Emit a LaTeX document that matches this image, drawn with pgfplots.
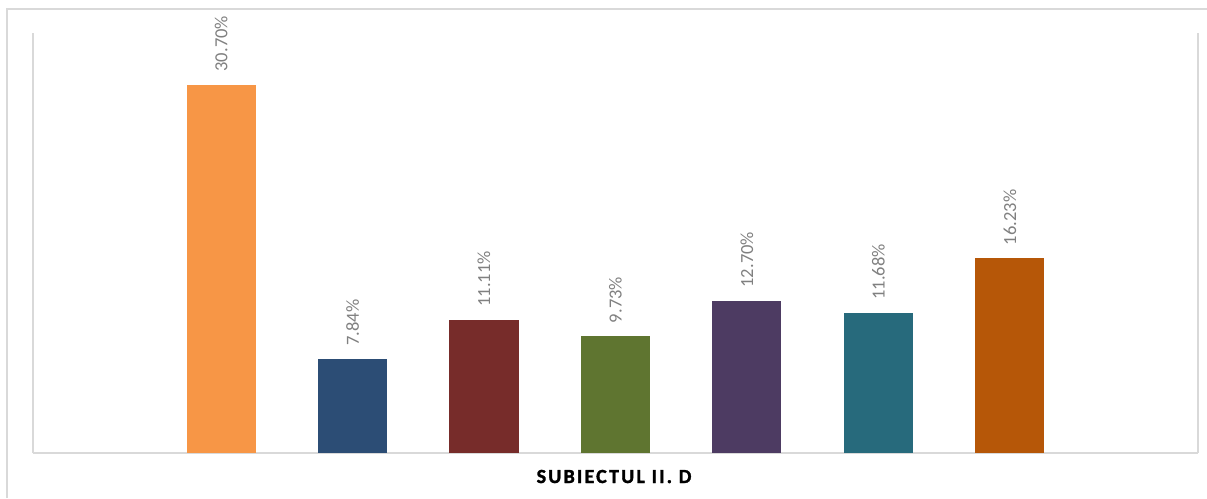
\documentclass[border=0pt]{standalone}
\usepackage{pgfplots}
\pgfplotsset{compat=1.18}
\usepackage{fontspec}
\setmainfont{Carlito}
\newfontfamily\titlefont{Carlito}[LetterSpace=11,FakeBold=1.6]
\definecolor{framegray}{HTML}{D9D9D9}
\definecolor{axisgray}{HTML}{D9D9D9}
\definecolor{labelgray}{HTML}{808080}
\definecolor{c1}{HTML}{F79646}
\definecolor{c2}{HTML}{2C4D75}
\definecolor{c3}{HTML}{772C2A}
\definecolor{c4}{HTML}{5F7530}
\definecolor{c5}{HTML}{4D3B62}
\definecolor{c6}{HTML}{276A7C}
\definecolor{c7}{HTML}{B65708}
\begin{document}
\begin{tikzpicture}[x=1pt,y=1pt]
\useasboundingbox (0,0) rectangle (1207,498);
\draw[color=framegray, line width=2pt] (7,0) -- (7,489) -- (1207,489);
\begin{axis}[
  at={(33pt,45pt)}, anchor=south west,
  scale only axis, width=1165pt, height=420pt,
  xmin=-1.43, xmax=7.43, ymin=0, ymax=35,
  axis x line*=bottom, axis y line*=box,
  axis line style={draw=axisgray, line width=1.5pt},
  xtick=\empty, ytick=\empty,
  ybar, bar width=69pt,
  clip=false,
  /pgf/number format/assume math mode=true,
  nodes near coords={\pgfmathprintnumber[fixed,fixed zerofill,precision=2]{\pgfplotspointmeta}\%},
  every node near coord/.append style={yshift=13pt, rotate=90, anchor=west, inner sep=0pt, text=labelgray, font=\fontsize{18.5}{18.5}\selectfont},
]
\addplot[fill=c1, draw=none, bar shift=0pt] coordinates {(0,30.70)};
\addplot[fill=c2, draw=none, bar shift=0pt] coordinates {(1,7.84)};
\addplot[fill=c3, draw=none, bar shift=0pt] coordinates {(2,11.11)};
\addplot[fill=c4, draw=none, bar shift=0pt] coordinates {(3,9.73)};
\addplot[fill=c5, draw=none, bar shift=0pt] coordinates {(4,12.70)};
\addplot[fill=c6, draw=none, bar shift=0pt] coordinates {(5,11.68)};
\addplot[fill=c7, draw=none, bar shift=0pt] coordinates {(6,16.23)};
\end{axis}
\node[anchor=base, inner sep=0pt, font=\titlefont\bfseries\fontsize{20}{20}\selectfont] at (614,15) {SUBIECTUL II. D};
\end{tikzpicture}
\end{document}
